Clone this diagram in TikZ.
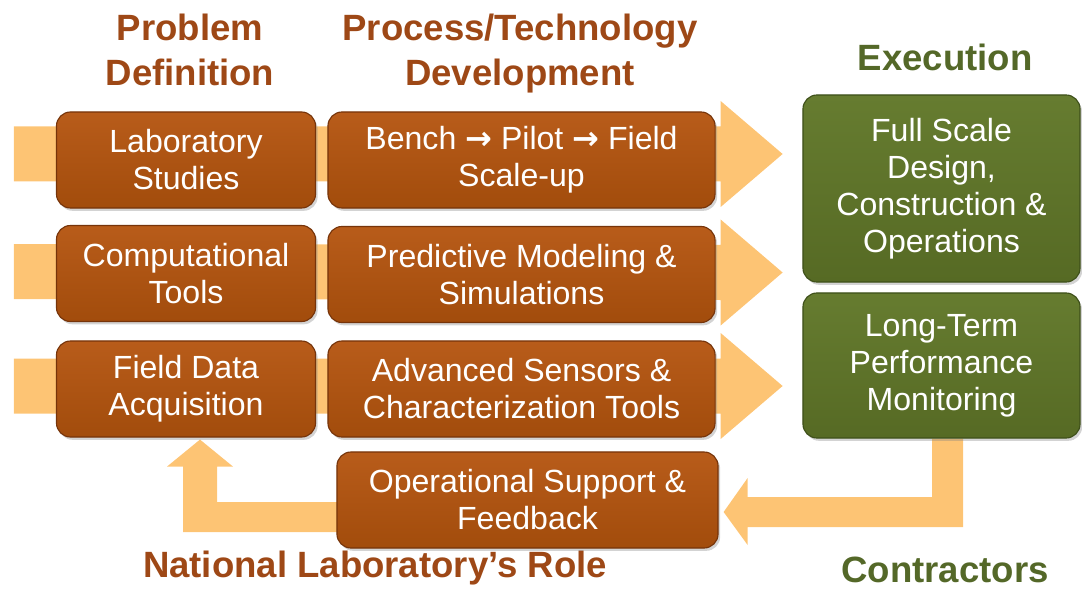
\documentclass[tikz,border=0pt]{standalone}
\usepackage{fontspec}
\setmainfont{Liberation Sans}
\newfontfamily\arrowfont{DejaVu Sans}
\usepackage{tikz}
\usetikzlibrary{positioning, calc, shadows, backgrounds}
\definecolor{rustbrown}{RGB}{162, 76, 12}
\definecolor{rusttop}{RGB}{184, 92, 26}
\definecolor{rustedge}{RGB}{118, 52, 10}
\definecolor{olivegreen}{RGB}{86, 106, 36}
\definecolor{olivetop}{RGB}{102, 124, 48}
\definecolor{oliveedge}{RGB}{62, 80, 26}
\definecolor{flowtan}{RGB}{253, 196, 116}
\definecolor{headrust}{RGB}{158, 72, 22}
\definecolor{headolive}{RGB}{84, 104, 40}
\newcommand\boxfont{\fontsize{22.8}{26.3}\selectfont}
\newcommand\headfont{\fontsize{26}{32}\selectfont\bfseries}
\newcommand\stepto{{\arrowfont\bfseries →}}

\begin{document}
\begin{tikzpicture}[
  x=0.025cm, y=-0.025cm,
  stagebox/.style={draw=rustedge, line width=0.8pt, rounded corners=10pt, top color=rusttop, bottom color=rustbrown,
    minimum height=2.4cm, inner sep=0pt, align=center, text=white, font=\boxfont,
    drop shadow={shadow xshift=1.5pt, shadow yshift=-2pt, opacity=0.35}},
  execbox/.style={stagebox, draw=oliveedge, top color=olivetop, bottom color=olivegreen, minimum width=6.925cm},
  headrow/.style={align=center, font=\headfont, text=headrust},
  flowfill/.style={fill=flowtan}
]
  \useasboundingbox (0,0) rectangle (1082,590);

  % column headings
  \node[headrow] (probhead) at (190,50) {Problem\\Definition};
  \node[headrow] (prochead) at (520,54) {Process/Technology\\Development};
  \node[headrow, text=headolive] (exechead) at (945,57) {Execution};
  \node[headrow] (labrole) at (375,568) {National Laboratory’s Role};
  \node[headrow, text=headolive] (contrhead) at (945,570) {Contractors};

  % problem definition column
  \node[stagebox, minimum width=6.475cm] (lab) at (186,160) {Laboratory\\Studies};
  \node[stagebox, minimum width=6.475cm] (comp) at (186,273.5) {Computational\\Tools};
  \node[stagebox, minimum width=6.475cm] (field) at (186,389) {Field Data\\Acquisition};

  % development column
  \node[stagebox, minimum width=9.675cm] (bench) at (521.5,160) {Bench \stepto{} Pilot \stepto{} Field\\Scale-up};
  \node[stagebox, minimum width=9.675cm] (model) at (521.5,274.5) {Predictive Modeling \&\\Simulations};
  \node[stagebox, minimum width=9.675cm] (sensor) at (521.5,389) {Advanced Sensors \&\\Characterization Tools};
  \node[stagebox, minimum width=9.525cm] (support) at (527.5,500) {Operational Support \&\\Feedback};

  % execution column
  \node[execbox, minimum height=4.675cm] (full) at (941.5,188.5) {Full Scale\\Design,\\Construction \&\\Operations};
  \node[execbox, minimum height=3.625cm] (monitor) at (941.5,365.5) {Long-Term\\Performance\\Monitoring};

  \begin{scope}[on background layer]
    % wide arrows running behind each row
    \foreach \a/\b/\dy in {lab/bench/-6, comp/model/-2, field/sensor/-3}
      \fill[flowfill] ($(\a.west)+(-42,\dy-27.5)$) -- ($(\b.east)+(5,\dy-27.5)$)
        -- ($(\b.east)+(5,\dy-53)$) -- ($(\b.east)+(67,\dy)$) -- ($(\b.east)+(5,\dy+53)$)
        -- ($(\b.east)+(5,\dy+27.5)$) -- ($(\a.west)+(-42,\dy+27.5)$) -- cycle;

    % monitoring back to support
    \fill[flowfill] ($(monitor.south)+(-9.5,0)$) |- ($(support.east)+(29,-3)$)
      -- ($(support.east)+(29,-22)$) -- ($(support.east)+(5,12)$) -- ($(support.east)+(29,45)$)
      -- ($(support.east)+(29,27)$) -| ($(monitor.south)+(21.5,0)$) -- cycle;

    % support back to field data
    \fill[flowfill] ($(support.west)+(10,2)$) -| ($(field.south)+(31,29)$)
      -- ($(field.south)+(47,29)$) -- ($(field.south)+(14,2)$) -- ($(field.south)+(-19,29)$)
      -- ($(field.south)+(-3,29)$) |- ($(support.west)+(10,32)$) -- cycle;
  \end{scope}
\end{tikzpicture}
\end{document}
